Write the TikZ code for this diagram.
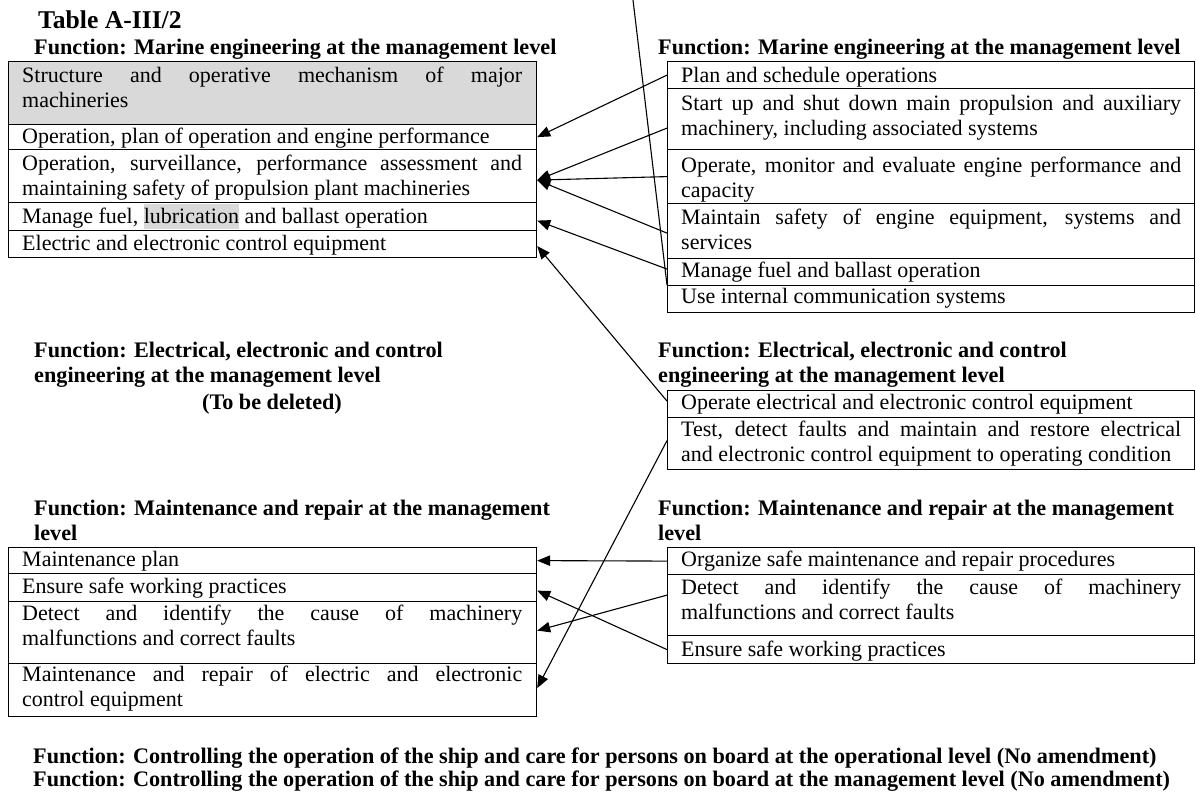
\documentclass[tikz,border=0pt]{standalone}
\usepackage{fontspec}
\setmainfont{Liberation Serif}
\usetikzlibrary{arrows.meta}
\definecolor{shade}{HTML}{D9D9D9}
\tolerance=9999
\hbadness=10000
\hyphenpenalty=10000
\newcommand{\hlword}[1]{{\setlength{\fboxsep}{0pt}\colorbox{shade}{\rule[-6pt]{0pt}{25pt}#1}}}
\begin{document}
\begin{tikzpicture}[x=1pt,y=-1pt,
  every node/.style={font=\fontsize{22}{25}\selectfont},
  cell/.style={draw, line width=1.2pt, inner sep=0pt, anchor=north west},
  lcell/.style={cell, minimum width=528pt},
  rcell/.style={cell, minimum width=527pt},
  txt/.style={anchor=base west, inner sep=0pt, text width=500pt, align=justify},
  head/.style={anchor=base west, inner sep=0pt, align=left, font=\fontsize{22.2}{25.5}\selectfont\bfseries},
  arr/.style={line width=1.1pt, -{Triangle[length=13pt,width=10.5pt]}},
  lnk/.style={line width=1.1pt}]
\useasboundingbox (0,0) rectangle (1196,792);

% titles
\node[head, font=\fontsize{25.6}{28}\selectfont\bfseries] (title) at (38,29) {Table A-III/2};
\node[head] (hL1) at (34,55) {Function: Marine engineering at the management level};
\node[head] (hR1) at (658,55) {Function: Marine engineering at the management level};

% left top table
\node[lcell, minimum height=63pt, fill=shade] (L1) at (8,61) {};
\node[lcell, minimum height=25pt] (L2) at (8,124) {};
\node[lcell, minimum height=53pt] (L3) at (8,149) {};
\node[lcell, minimum height=28pt] (L4) at (8,202) {};
\node[lcell, minimum height=27pt] (L5) at (8,230) {};
\node[txt] (tL1) at (22,82) {Structure and operative mechanism of major\linebreak machineries};
\node[txt] (tL2) at (22,143) {Operation, plan of operation and engine performance};
\node[txt] (tL3) at (22,170) {Operation, surveillance, performance assessment and\linebreak maintaining safety of propulsion plant machineries};
\node[txt] (tL4) at (22,223) {Manage fuel, \hlword{lubrication} and ballast operation};
\node[txt] (tL5) at (22,250) {Electric and electronic control equipment};

% right top table
\node[rcell, minimum height=27pt] (R1) at (667,61) {};
\node[rcell, minimum height=61pt] (R2) at (667,88) {};
\node[rcell, minimum height=54pt] (R3) at (667,149) {};
\node[rcell, minimum height=55pt] (R4) at (667,203) {};
\node[rcell, minimum height=27pt] (R5) at (667,258) {};
\node[rcell, minimum height=27pt] (R6) at (667,285) {};
\node[txt] (tR1) at (681,82) {Plan and schedule operations};
\node[txt] (tR2) at (681,110) {Start up and shut down main propulsion and auxiliary\linebreak machinery, including associated systems};
\node[txt] (tR3) at (681,172) {Operate, monitor and evaluate engine performance and\linebreak capacity};
\node[txt] (tR4) at (681,224) {Maintain safety of engine equipment, systems and\linebreak services};
\node[txt] (tR5) at (681,277) {Manage fuel and ballast operation};
\node[txt] (tR6) at (681,303) {Use internal communication systems};

% middle headers (base = last line)
\node[head] (hL2) at (34,382.5) {Function: Electrical, electronic and control\\engineering at the management level};
\node[head, anchor=base] (del) at (272,409) {(To be deleted)};
\node[head] (hR2) at (658,382.5) {Function: Electrical, electronic and control\\engineering at the management level};

% right middle table
\node[rcell, minimum height=27pt] (E1) at (667,390) {};
\node[rcell, minimum height=52pt] (E2) at (667,417) {};
\node[txt] (tE1) at (681,409) {Operate electrical and electronic control equipment};
\node[txt] (tE2) at (681,436) {Test, detect faults and maintain and restore electrical\linebreak and electronic control equipment to operating condition};

% lower headers (base = last line)
\node[head] (hL3) at (34,540.5) {Function: Maintenance and repair at the management\\level};
\node[head] (hR3) at (658,540.5) {Function: Maintenance and repair at the management\\level};

% left lower table
\node[lcell, minimum height=26pt] (N1) at (8,547) {};
\node[lcell, minimum height=28pt] (N2) at (8,573) {};
\node[lcell, minimum height=62pt] (N3) at (8,601) {};
\node[lcell, minimum height=53pt] (N4) at (8,663) {};
\node[txt] (tN1) at (22,566) {Maintenance plan};
\node[txt] (tN2) at (22,593) {Ensure safe working practices};
\node[txt] (tN3) at (22,620) {Detect and identify the cause of machinery\linebreak malfunctions and correct faults};
\node[txt] (tN4) at (22,681) {Maintenance and repair of electric and electronic\linebreak control equipment};

% right lower table
\node[rcell, minimum height=27pt] (M1) at (667,547) {};
\node[rcell, minimum height=61pt] (M2) at (667,574) {};
\node[rcell, minimum height=28pt] (M3) at (667,635) {};
\node[txt] (tM1) at (681,566) {Organize safe maintenance and repair procedures};
\node[txt] (tM2) at (681,594) {Detect and identify the cause of machinery\linebreak malfunctions and correct faults};
\node[txt] (tM3) at (681,656) {Ensure safe working practices};

% bottom lines
\node[head] (b1) at (33,763) {Function: Controlling the operation of the ship and care for persons on board at the operational level (No amendment)};
\node[head] (b2) at (33,786) {Function: Controlling the operation of the ship and care for persons on board at the management level (No amendment)};

% connectors
\draw[arr] (R1.west) -- (L2.east);
\draw[arr] ([yshift=-9pt]R2.west) -- ([yshift=-4pt]L3.east);
\draw[arr] (R3.west) -- ([yshift=-4pt]L3.east);
\draw[arr] ([yshift=-2pt]R4.west) -- ([yshift=-4pt]L3.east);
\draw[arr] ([yshift=3pt]R5.west) -- ([yshift=-4pt]L4.east);
\coordinate (topend) at (633,0);
\draw[lnk] (topend) -- (R6.north west);
\draw[arr] ([yshift=3pt]E1.west) -- ([yshift=-2pt]L5.east);
\draw[arr] ([yshift=3pt]E2.west) -- ([yshift=2pt]N4.east);
\draw[arr] (M1.west) -- (N1.east);
\draw[arr] ([yshift=10pt]M2.west) -- ([yshift=2pt]N3.east);
\draw[arr] (M3.west) -- ([yshift=-3pt]N2.east);
\end{tikzpicture}
\end{document}
